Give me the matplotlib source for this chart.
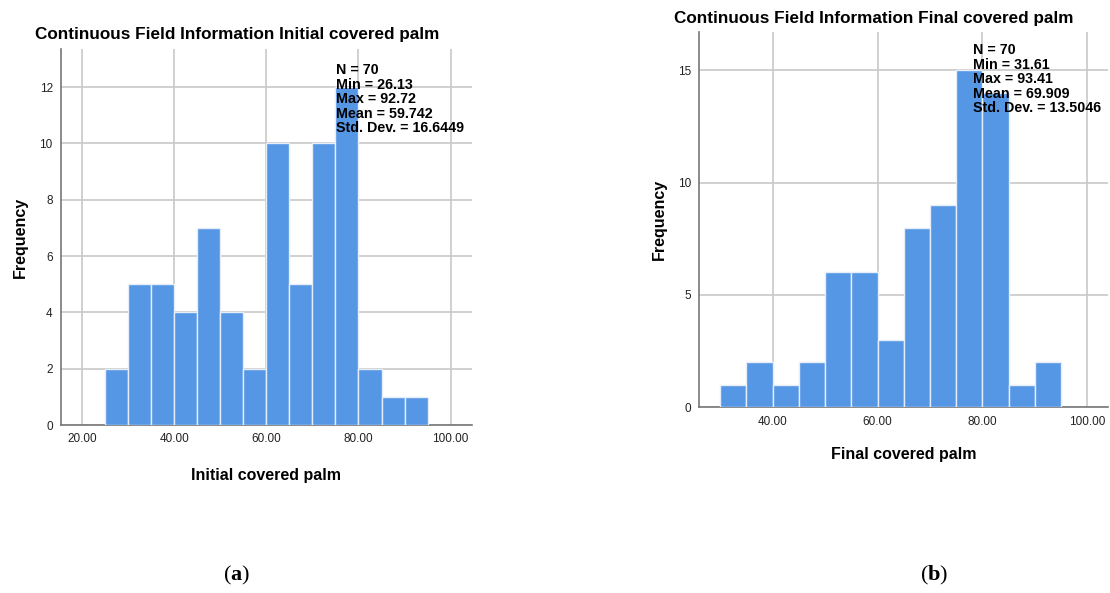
import numpy as np
import matplotlib.pyplot as plt

# histogram bins (width 5) and counts
edges_a = [25, 30, 35, 40, 45, 50, 55, 60, 65, 70, 75, 80, 85, 90, 95]
counts_a = [2, 5, 5, 4, 7, 4, 2, 10, 5, 10, 12, 2, 1, 1]
edges_b = [30, 35, 40, 45, 50, 55, 60, 65, 70, 75, 80, 85, 90, 95]
counts_b = [1, 2, 1, 2, 6, 6, 3, 8, 9, 15, 14, 1, 2]

stats_a = "N = 70\nMin = 26.13\nMax = 92.72\nMean = 59.742\nStd. Dev. = 16.6449"
stats_b = "N = 70\nMin = 31.61\nMax = 93.41\nMean = 69.909\nStd. Dev. = 13.5046"

plt.rcParams['font.family'] = ['Liberation Sans', 'DejaVu Sans']
plt.rcParams['mathtext.fontset'] = 'custom'
plt.rcParams['mathtext.bf'] = 'Liberation Serif:bold'
bar_col = '#5596e5'
grid_col = '#c8c8c8'

fig = plt.figure(figsize=(11.1, 5.93), dpi=100)


def panel(rect, edges, counts, xlim, ylim, xticks, yticks, title, xlabel,
          stats, stat_xy, tpos, ypad, xpad):
    ax = fig.add_axes(rect)
    e = np.array(edges, dtype=float)
    ax.bar(e[:-1], counts, width=np.diff(e), align='edge', color=bar_col,
           edgecolor='#e6eefa', linewidth=1.0, zorder=3)
    ax.set_xlim(*xlim)
    ax.set_ylim(*ylim)
    ax.set_xticks(xticks)
    ax.set_xticklabels(['%.2f' % t for t in xticks])
    ax.set_yticks(yticks)
    ax.grid(True, color=grid_col, linewidth=1.2, zorder=0)
    for s in ['top', 'right']:
        ax.spines[s].set_visible(False)
    for s in ['left', 'bottom']:
        ax.spines[s].set_color('#777777')
        ax.spines[s].set_linewidth(1.2)
    ax.tick_params(length=0, labelsize=8.5, colors='#222222', pad=6)
    ax.set_ylabel('Frequency', fontsize=11.5, fontweight='bold', labelpad=ypad)
    ax.set_xlabel(xlabel, fontsize=11.5, fontweight='bold', labelpad=xpad)
    fig.text(tpos[0], tpos[1], title, fontsize=12.3, fontweight='bold',
             ha='center', va='center')
    ax.text(stat_xy[0], stat_xy[1], stats, transform=ax.transData,
            fontsize=10.3, fontweight='bold', va='top', ha='left',
            linespacing=1.05, zorder=5)
    return ax


panel([0.055, 0.2833, 0.370, 0.634], edges_a, counts_a, (15.4, 104.6), (0, 13.35),
      [20, 40, 60, 80, 100], [0, 2, 4, 6, 8, 10, 12],
      'Continuous Field Information Initial covered palm', 'Initial covered palm',
      stats_a, (75.2, 12.85), (0.214, 0.941), 8, 16)
panel([0.630, 0.3132, 0.3685, 0.6328], edges_b, counts_b, (26.0, 104.0), (0, 16.7),
      [40, 60, 80, 100], [0, 5, 10, 15],
      'Continuous Field Information Final covered palm', 'Final covered palm',
      stats_b, (78.1, 16.2), (0.787, 0.968), 8, 14)

fig.text(0.2135, 0.030, r'($\mathbf{a}$)', fontsize=16, family='Liberation Serif',
         ha='center', va='center')
fig.text(0.842, 0.030, r'($\mathbf{b}$)', fontsize=16, family='Liberation Serif',
         ha='center', va='center')

fig.savefig('out.png', dpi=100)
